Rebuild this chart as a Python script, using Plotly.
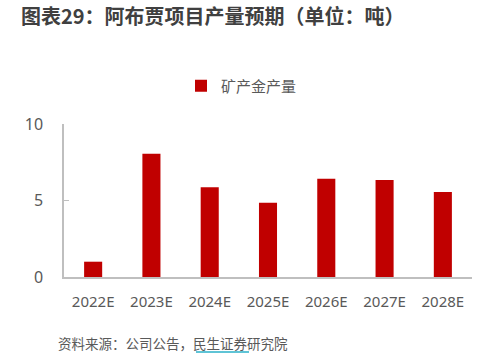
import plotly.graph_objects as go

categories = ["2022E", "2023E", "2024E", "2025E", "2026E", "2027E", "2028E"]
gold_output = [1.0, 8.05, 5.86, 4.86, 6.42, 6.34, 5.56]
series_name = "矿产金产量"
y_ticks = [0, 5, 10]
title_text = "图表29：阿布贾项目产量预期（单位：吨）"
source_text = "资料来源：公司公告，民生证券研究院"

W, H = 491, 360
# plot area in window pixels: x 64..472, y 124..277
L, R, T, B = 64, 491 - 472, 124, 360 - 277
pw = W - L - R
ph = H - T - B

def px_x(x):
    return (x - L) / pw

def px_y(y):
    return (H - B - y) / ph

FONT = "Noto Sans, Noto Sans CJK SC, sans-serif"
CJK = "Noto Sans CJK SC, sans-serif"
GRAY = "#595959"

fig = go.Figure()
fig.add_trace(go.Bar(
    x=categories, y=gold_output, name=series_name,
    marker=dict(color="#c00000", line=dict(width=0)),
    showlegend=True,
))

fig.update_layout(
    width=W, height=H,
    margin=dict(l=L, r=R, t=T, b=B, autoexpand=False),
    paper_bgcolor="white", plot_bgcolor="white",
    bargap=0.69,
    font=dict(family=FONT, color=GRAY, size=15),
    title=dict(
        text="<b>" + title_text + "</b>",
        x=21 / W, xanchor="left", y=1 - 17 / H, yanchor="middle",
        font=dict(family=CJK, size=20, color="#404040"),
    ),
    legend=dict(
        orientation="h", x=px_x(181), xanchor="left", y=px_y(86), yanchor="middle",
        font=dict(size=15, color=GRAY, family=CJK),
        bgcolor="rgba(0,0,0,0)",
    ),
    xaxis=dict(
        showline=True, linecolor="#bfbfbf", linewidth=1.5,
        ticks="", tickfont=dict(size=15, color=GRAY), showgrid=False,
        ticklabelstandoff=10,
    ),
    yaxis=dict(
        range=[0, 10], tickvals=y_ticks, showgrid=False, zeroline=False,
        showline=True, linecolor="#bfbfbf", linewidth=1.5,
        ticks="inside", ticklen=5, tickcolor="#bfbfbf", tickwidth=1,
        tickfont=dict(size=16, color=GRAY), ticklabelstandoff=16,
    ),
    showlegend=True,
)

fig.add_annotation(
    text=source_text, xref="paper", yref="paper",
    x=px_x(56), xanchor="left", y=px_y(343), yanchor="middle",
    showarrow=False, font=dict(size=13.5, color=GRAY, family=CJK),
)
fig.add_shape(
    type="line", xref="paper", yref="paper",
    x0=px_x(196), x1=px_x(249), y0=px_y(352), y1=px_y(352),
    line=dict(color="#2ab0c8", width=1.5),
)

# remove the browser's default 8px body margin so the figure sits at 0,0
fig.write_html(
    "out.html",
    config={"displayModeBar": False},
    post_script="document.body.style.margin='0';",
)
